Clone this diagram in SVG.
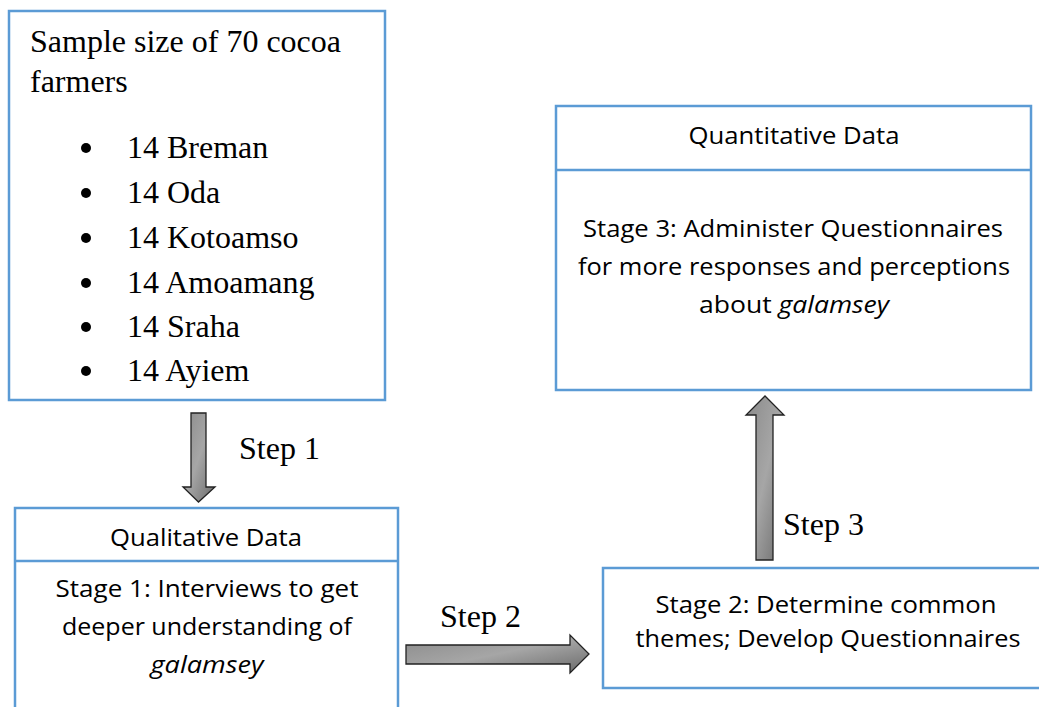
<svg xmlns="http://www.w3.org/2000/svg" width="1039" height="707" viewBox="0 0 1039 707">
<style>
.box{fill:#fff;stroke:#5B9BD5;stroke-width:2.5}
.tm{font-family:"Liberation Serif","Times New Roman",serif;font-size:32px;fill:#000}
.cb{font-family:"Open Sans","Liberation Sans",sans-serif;font-size:24px;fill:#000;text-anchor:middle}
.arrow{fill:url(#g);stroke:#222;stroke-width:1.3;stroke-linejoin:miter}
</style>
<defs>
<linearGradient id="g" x1="0" y1="0" x2="1" y2="1">
<stop offset="0" stop-color="#8a8a8a"/>
<stop offset="0.5" stop-color="#a6a6a6"/>
<stop offset="1" stop-color="#6a6a6a"/>
</linearGradient>
</defs>
<rect width="1039" height="707" fill="#fff"/>
<g id="sample">
<rect class="box" x="9" y="11" width="376" height="389"/>
<text class="tm" x="30" y="52">Sample size of 70 cocoa</text>
<text class="tm" x="30" y="92">farmers</text>
<g fill="#000">
<circle cx="86" cy="148" r="5"/>
<circle cx="86" cy="193" r="5"/>
<circle cx="86" cy="238" r="5"/>
<circle cx="86" cy="283" r="5"/>
<circle cx="86" cy="327" r="5"/>
<circle cx="86" cy="371" r="5"/>
</g>
<text class="tm" x="127" y="158">14 Breman</text>
<text class="tm" x="127" y="203">14 Oda</text>
<text class="tm" x="127" y="248">14 Kotoamso</text>
<text class="tm" x="127" y="293">14 Amoamang</text>
<text class="tm" x="127" y="337">14 Sraha</text>
<text class="tm" x="127" y="381">14 Ayiem</text>
</g>
<g id="qualitative">
<rect class="box" x="15" y="508" width="383" height="220"/>
<line x1="15" y1="561" x2="398" y2="561" stroke="#5B9BD5" stroke-width="2.5"/>
<text class="cb" x="206" y="546" textLength="192" lengthAdjust="spacingAndGlyphs">Qualitative Data</text>
<text class="cb" x="207" y="597" textLength="303" lengthAdjust="spacingAndGlyphs">Stage 1: Interviews to get</text>
<text class="cb" x="207" y="635" textLength="290" lengthAdjust="spacingAndGlyphs">deeper understanding of</text>
<text class="cb" x="207" y="673" font-style="italic" textLength="113" lengthAdjust="spacingAndGlyphs">galamsey</text>
</g>
<g id="stage2">
<rect class="box" x="603" y="568" width="450" height="120"/>
<text class="cb" x="826" y="613" textLength="341" lengthAdjust="spacingAndGlyphs">Stage 2: Determine common</text>
<text class="cb" x="828" y="647" textLength="385" lengthAdjust="spacingAndGlyphs">themes; Develop Questionnaires</text>
</g>
<g id="quantitative">
<rect class="box" x="556" y="106" width="475" height="284"/>
<line x1="556" y1="170" x2="1031" y2="170" stroke="#5B9BD5" stroke-width="2.5"/>
<text class="cb" x="794" y="144" textLength="211" lengthAdjust="spacingAndGlyphs">Quantitative Data</text>
<text class="cb" x="793" y="237" textLength="420" lengthAdjust="spacingAndGlyphs">Stage 3: Administer Questionnaires</text>
<text class="cb" x="794" y="275" textLength="432" lengthAdjust="spacingAndGlyphs">for more responses and perceptions</text>
<text class="cb" x="794" y="313" textLength="190" lengthAdjust="spacingAndGlyphs">about <tspan font-style="italic">galamsey</tspan></text>
</g>
<g id="connectors">
<polygon class="arrow" points="191,413 206,413 206,487 215,487 198.5,502 183,487 191,487"/>
<text class="tm" x="239" y="459">Step 1</text>
<polygon class="arrow" points="406,645 570,645 570,635 589,654 570,673 570,664 406,664"/>
<text class="tm" x="440" y="627">Step 2</text>
<polygon class="arrow" points="756,560 756,415 746,415 765,396 784,415 773,415 773,560"/>
<text class="tm" x="783" y="535">Step 3</text>
</g>
</svg>
